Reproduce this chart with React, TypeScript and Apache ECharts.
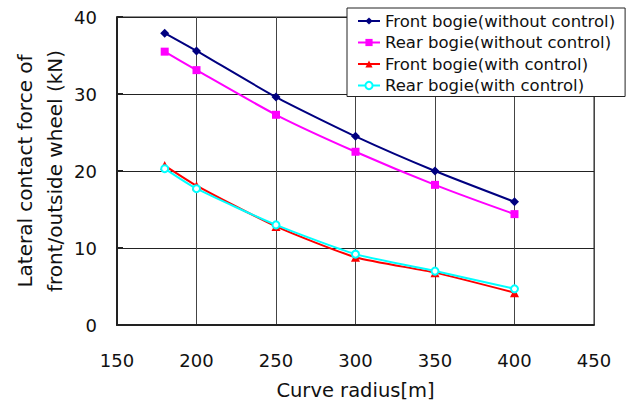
import React, { useEffect, useRef } from "react";
import * as echarts from "echarts";

const radius = [180, 200, 250, 300, 350, 400];
const frontWithout = [37.9, 35.6, 29.6, 24.5, 20.0, 16.0];
const rearWithout = [35.5, 33.1, 27.3, 22.5, 18.2, 14.4];
const frontWith = [20.7, 18.1, 12.8, 8.8, 6.8, 4.2];
const rearWith = [20.3, 17.7, 13.0, 9.2, 7.0, 4.7];
const seriesNames = [
  "Front bogie(without control)",
  "Rear bogie(without control)",
  "Front bogie(with control)",
  "Rear bogie(with control)",
];

const FONT = "'DejaVu Sans', sans-serif";

export default function App() {
  const ref = useRef<HTMLDivElement>(null);
  useEffect(() => {
    const chart = echarts.init(ref.current!, null, { renderer: "svg" });
    const pair = (arr: number[]) => radius.map((r, i) => [r, arr[i]]);
    chart.setOption({
      animation: false,
      backgroundColor: "#fff",
      textStyle: { fontFamily: FONT },
      grid: {
        left: 117,
        top: 17,
        right: 38,
        bottom: 76,
        containLabel: false,
        outerBoundsMode: "none",
        show: true,
        borderColor: "#222",
        borderWidth: 1,
      },
      xAxis: {
        type: "value",
        min: 150,
        max: 450,
        interval: 50,
        name: "Curve radius[m]",
        nameLocation: "middle",
        nameGap: 55,
        nameMoveOverlap: false,
        nameTextStyle: { fontSize: 19.5, lineHeight: 20, color: "#111", fontFamily: FONT },
        axisLine: { show: true, lineStyle: { color: "#222", width: 2 } },
        axisTick: { show: false },
        axisLabel: { fontSize: 18, color: "#111", margin: 26, fontFamily: FONT },
        splitLine: { show: true, lineStyle: { color: "#444", width: 1 } },
      },
      yAxis: {
        type: "value",
        min: 0,
        max: 40,
        interval: 10,
        name: "Lateral contact force of\nfront/outside wheel (kN)",
        nameLocation: "middle",
        nameGap: 47,
        nameMoveOverlap: false,
        nameTextStyle: { fontSize: 20, color: "#111", lineHeight: 30, fontFamily: FONT },
        axisLine: { show: true, lineStyle: { color: "#222", width: 2 } },
        axisTick: { show: true, inside: true, length: 6, lineStyle: { color: "#222", width: 2 } },
        axisLabel: { fontSize: 18, color: "#111", margin: 20, fontFamily: FONT },
        splitLine: { show: true, lineStyle: { color: "#222", width: 1 } },
      },
      legend: {
        orient: "vertical",
        left: 347,
        top: 8,
        padding: [4, 10, 2, 10],
        itemGap: 3.5,
        itemWidth: 22,
        itemHeight: 9,
        backgroundColor: "#fff",
        borderColor: "#222",
        borderWidth: 1,
        borderRadius: 0,
        textStyle: { fontSize: 16.5, lineHeight: 18, color: "#111", fontFamily: FONT },
        data: seriesNames,
      },
      series: [
        {
          name: seriesNames[0],
          type: "line",
          data: pair(frontWithout),
          smooth: 0.2,
          symbol: "diamond",
          symbolSize: 9,
          itemStyle: { color: "#000080" },
          lineStyle: { color: "#000080", width: 2 },
        },
        {
          name: seriesNames[1],
          type: "line",
          data: pair(rearWithout),
          smooth: 0.2,
          symbol: "rect",
          symbolSize: 8,
          itemStyle: { color: "#ff00ff" },
          lineStyle: { color: "#ff00ff", width: 2 },
        },
        {
          name: seriesNames[2],
          type: "line",
          data: pair(frontWith),
          smooth: 0.2,
          symbol: "triangle",
          symbolSize: 9,
          itemStyle: { color: "#ff0000" },
          lineStyle: { color: "#ff0000", width: 2 },
        },
        {
          name: seriesNames[3],
          type: "line",
          data: pair(rearWith),
          smooth: 0.2,
          symbol: "emptyCircle",
          symbolSize: 7,
          itemStyle: { color: "#00ffff", borderColor: "#00e0e0", borderWidth: 1.5 },
          lineStyle: { color: "#00ffff", width: 2 },
        },
      ],
    });
    return () => chart.dispose();
  }, []);
  return <div ref={ref} style={{ position: "fixed", left: 0, top: 0, width: 632, height: 401 }} />;
}
